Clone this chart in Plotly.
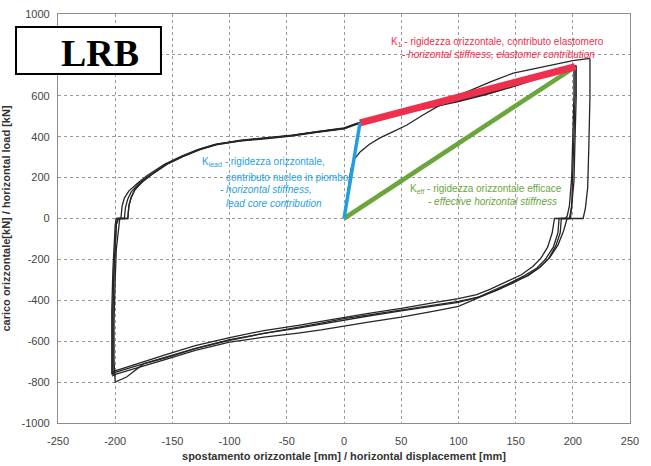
import plotly.graph_objects as go

# ---------------- data ----------------
# virgin loading branch
virgin_x = [0, 3, 6, 9, 14, 22, 31, 43, 55, 69, 82, 88, 95, 110, 128, 148, 170, 188, 200, 215]
virgin_y = [0, 120, 240, 290, 325, 362, 393, 425, 457, 506, 548, 560, 592, 625, 668, 711, 738, 758, 772, 783]

# cycle 1
c1_x = [215, 215, 214, 213, 211, 209, 195, 192, 187, 180, 171, 160, 148, 134, 118, 100, 80, 50, 20, 0,
        -20, -40, -70, -100, -130, -155, -175, -190, -200, -201, -201, -200, -199, -197, -196, -189,
        -188, -186, -183, -176, -168, -154, -139, -125, -110, -90, -68, -45, -24, 0, 11, 30, 50, 75,
        100, 125, 150, 175, 201]
c1_y = [783, 600, 350, 150, 50, 0, 0, -60, -130, -190, -238, -280, -315, -350, -385, -405, -422, -447,
        -470, -490, -512, -532, -560, -592, -635, -676, -710, -775, -800, -700, -500, -300, -150, -50,
        0, 0, 65, 105, 140, 180, 215, 268, 308, 340, 365, 383, 395, 408, 425, 443, 465, 492, 518, 548,
        578, 614, 654, 699, 745]

# cycle 2
c2_x = [201, 201, 200, 199, 197, 195, 193, 184, 182, 178, 172, 165, 155, 142, 128, 116, 100, 80, 50, 20,
        0, -20, -40, -70, -100, -130, -155, -180, -200, -202, -202, -202, -201, -200, -199, -198, -192,
        -191, -189, -186, -179, -171, -156, -141, -127, -112, -91, -69, -46, -25, 0, 11, 30, 50, 75,
        100, 125, 150, 175, 203]
c2_y = [745, 600, 400, 200, 60, 10, 0, 0, -70, -140, -195, -235, -275, -310, -345, -372, -392, -410,
        -440, -465, -483, -503, -523, -548, -582, -622, -665, -708, -745, -755, -650, -450, -250, -100,
        -30, 0, 0, 55, 95, 130, 172, 207, 262, 302, 334, 360, 378, 390, 403, 420, 438, 460, 487, 512,
        542, 572, 607, 648, 694, 748]

# cycle 3
c3_x = [203, 203, 202, 201, 199, 197, 188, 187, 183, 176, 168, 157, 144, 130, 117, 100, 80, 50, 20, 0,
        -20, -40, -70, -100, -130, -155, -180, -200, -203, -203, -203, -202, -201, -200, -199, -195,
        -194, -192, -188, -180, -172, -157, -142, -128, -113, -92, -70, -47, -26, 0, 11, 30, 50, 75,
        100, 125, 150, 175, 202]
c3_y = [748, 600, 400, 180, 60, 0, 0, -70, -140, -200, -245, -282, -318, -352, -385, -410, -428, -452,
        -478, -498, -517, -536, -562, -596, -636, -680, -718, -752, -762, -650, -450, -250, -100, -30,
        0, 0, 60, 100, 135, 175, 210, 265, 305, 337, 362, 380, 392, 405, 422, 440, 463, 490, 515, 546,
        577, 612, 652, 697, 742]

# cycle 4
c4_x = [202, 202, 201, 200, 199, 198, 190, 189, 185, 179, 171, 161, 150, 135, 116, 100, 80, 50, 20, 0,
        -20, -40, -70, -100, -130, -155, -180, -200, -202, -202, -202, -201, -200, -199, -197, -189,
        -188, -186, -183, -177, -169, -155, -140, -126, -111, -90, -68, -45, -24, 0, 11, 30, 50, 75,
        100, 125, 150, 175, 201]
c4_y = [742, 600, 400, 200, 60, 0, 0, -70, -135, -195, -240, -280, -305, -345, -392, -430, -452, -482,
        -508, -527, -545, -560, -580, -605, -645, -688, -728, -762, -768, -650, -450, -250, -100, -30,
        0, 0, 62, 102, 138, 178, 212, 266, 306, 338, 363, 381, 393, 406, 423, 441, 464, 491, 516, 546,
        576, 611, 651, 696, 740]

# stiffness lines
klead_x = [0, 14]
klead_y = [0, 468]
k1_x = [14, 202]
k1_y = [468, 742]
keff_x = [0, 202]
keff_y = [0, 742]

x_ticks = [-250, -200, -150, -100, -50, 0, 50, 100, 150, 200, 250]
x_tick_labels = ["-250", "-200", "-150", "-100", "-50", "0", "50", "100", "150", "200", "250"]
y_ticks = [-1000, -800, -600, -400, -200, 0, 200, 400, 600, 800, 1000]
y_tick_labels = ["-1000", "-800", "-600", "-400", "-200", "0", "200", "400", "600", "800", "1000"]

NARROW = "Liberation Sans Narrow, Arial Narrow, Liberation Sans, Arial, sans-serif"
RED = "#ee2f4e"
BLUE = "#1f9fe0"
GREEN = "#6aa63c"

fig = go.Figure()
loop_style = dict(color="#262626", width=1.3)
for xs, ys in [(virgin_x, virgin_y), (c1_x, c1_y), (c2_x, c2_y), (c3_x, c3_y), (c4_x, c4_y)]:
    fig.add_trace(go.Scatter(x=xs, y=ys, mode="lines", line=loop_style, showlegend=False,
                             hoverinfo="skip"))

fig.add_trace(go.Scatter(x=keff_x, y=keff_y, mode="lines", line=dict(color=GREEN, width=4.5),
                         showlegend=False))
fig.add_trace(go.Scatter(x=k1_x, y=k1_y, mode="lines", line=dict(color=RED, width=7),
                         showlegend=False))
fig.add_trace(go.Scatter(x=klead_x, y=klead_y, mode="lines", line=dict(color=BLUE, width=3.5),
                         showlegend=False))

def note(x, y, text, color, italic=False):
    fig.add_annotation(x=x, y=y, xref="x", yref="y", text=text, showarrow=False,
                       xanchor="left", yanchor="middle",
                       font=dict(family=NARROW, size=10, color=color,
                                 style="italic" if italic else "normal"))

note(39, 863, "K<sub>1</sub> - rigidezza orizzontale, contributo elastomero", RED)
note(49, 800, "- horizontal stiffness, elastomer contribution", RED, True)
note(-126, 276, "K<sub>lead</sub> - rigidezza orizzontale,", BLUE)
note(-105, 201, "contributo nucleo in piombo", BLUE)
note(-110, 143, "- horizontal stiffness,", BLUE, True)
note(-105, 74, "lead core contribution", BLUE, True)
note(56, 143, "K<sub>eff</sub> - rigidezza orizzontale efficace", GREEN)
note(72, 82, "- effective horizontal stiffness", GREEN, True)

# LRB label box
fig.add_shape(type="rect", xref="paper", yref="paper", x0=-0.0734, x1=0.180, y0=0.853, y1=0.968,
              line=dict(color="black", width=2), fillcolor="white", layer="above")
fig.add_annotation(xref="paper", yref="paper", x=0.0743, y=0.905, text="<b>LRB</b>",
                   showarrow=False, xanchor="center", yanchor="middle",
                   font=dict(family="Liberation Serif, Times New Roman, serif", size=38,
                             color="black"))

axis_common = dict(showgrid=True, gridcolor="#9a9a9a", griddash="dot", gridwidth=1,
                   showline=True, linecolor="#8c8c8c", linewidth=1.2, mirror=True,
                   zeroline=False, ticks="", automargin=False,
                   tickfont=dict(family=NARROW, size=11, color="#444444"))

fig.update_xaxes(range=[-250, 250], tickvals=x_ticks, ticktext=x_tick_labels, ticklabelstandoff=8,
                 title=dict(text="<b>spostamento orizzontale [mm] / horizontal displacement [mm]</b>",
                            font=dict(family=NARROW, size=11, color="#333333"), standoff=6),
                 **axis_common)
fig.update_yaxes(range=[-1000, 1000], tickvals=y_ticks, ticktext=y_tick_labels, ticklabelstandoff=5,
                 title=dict(text="<b>carico orizzontale[kN] / horizontal load [kN]</b>",
                            font=dict(family=NARROW, size=11, color="#333333"), standoff=10),
                 **axis_common)

fig.update_layout(width=651, height=466, margin=dict(l=58, r=21, t=14, b=43),
                  paper_bgcolor="white", plot_bgcolor="white", showlegend=False)

fig.write_html("out.html")
